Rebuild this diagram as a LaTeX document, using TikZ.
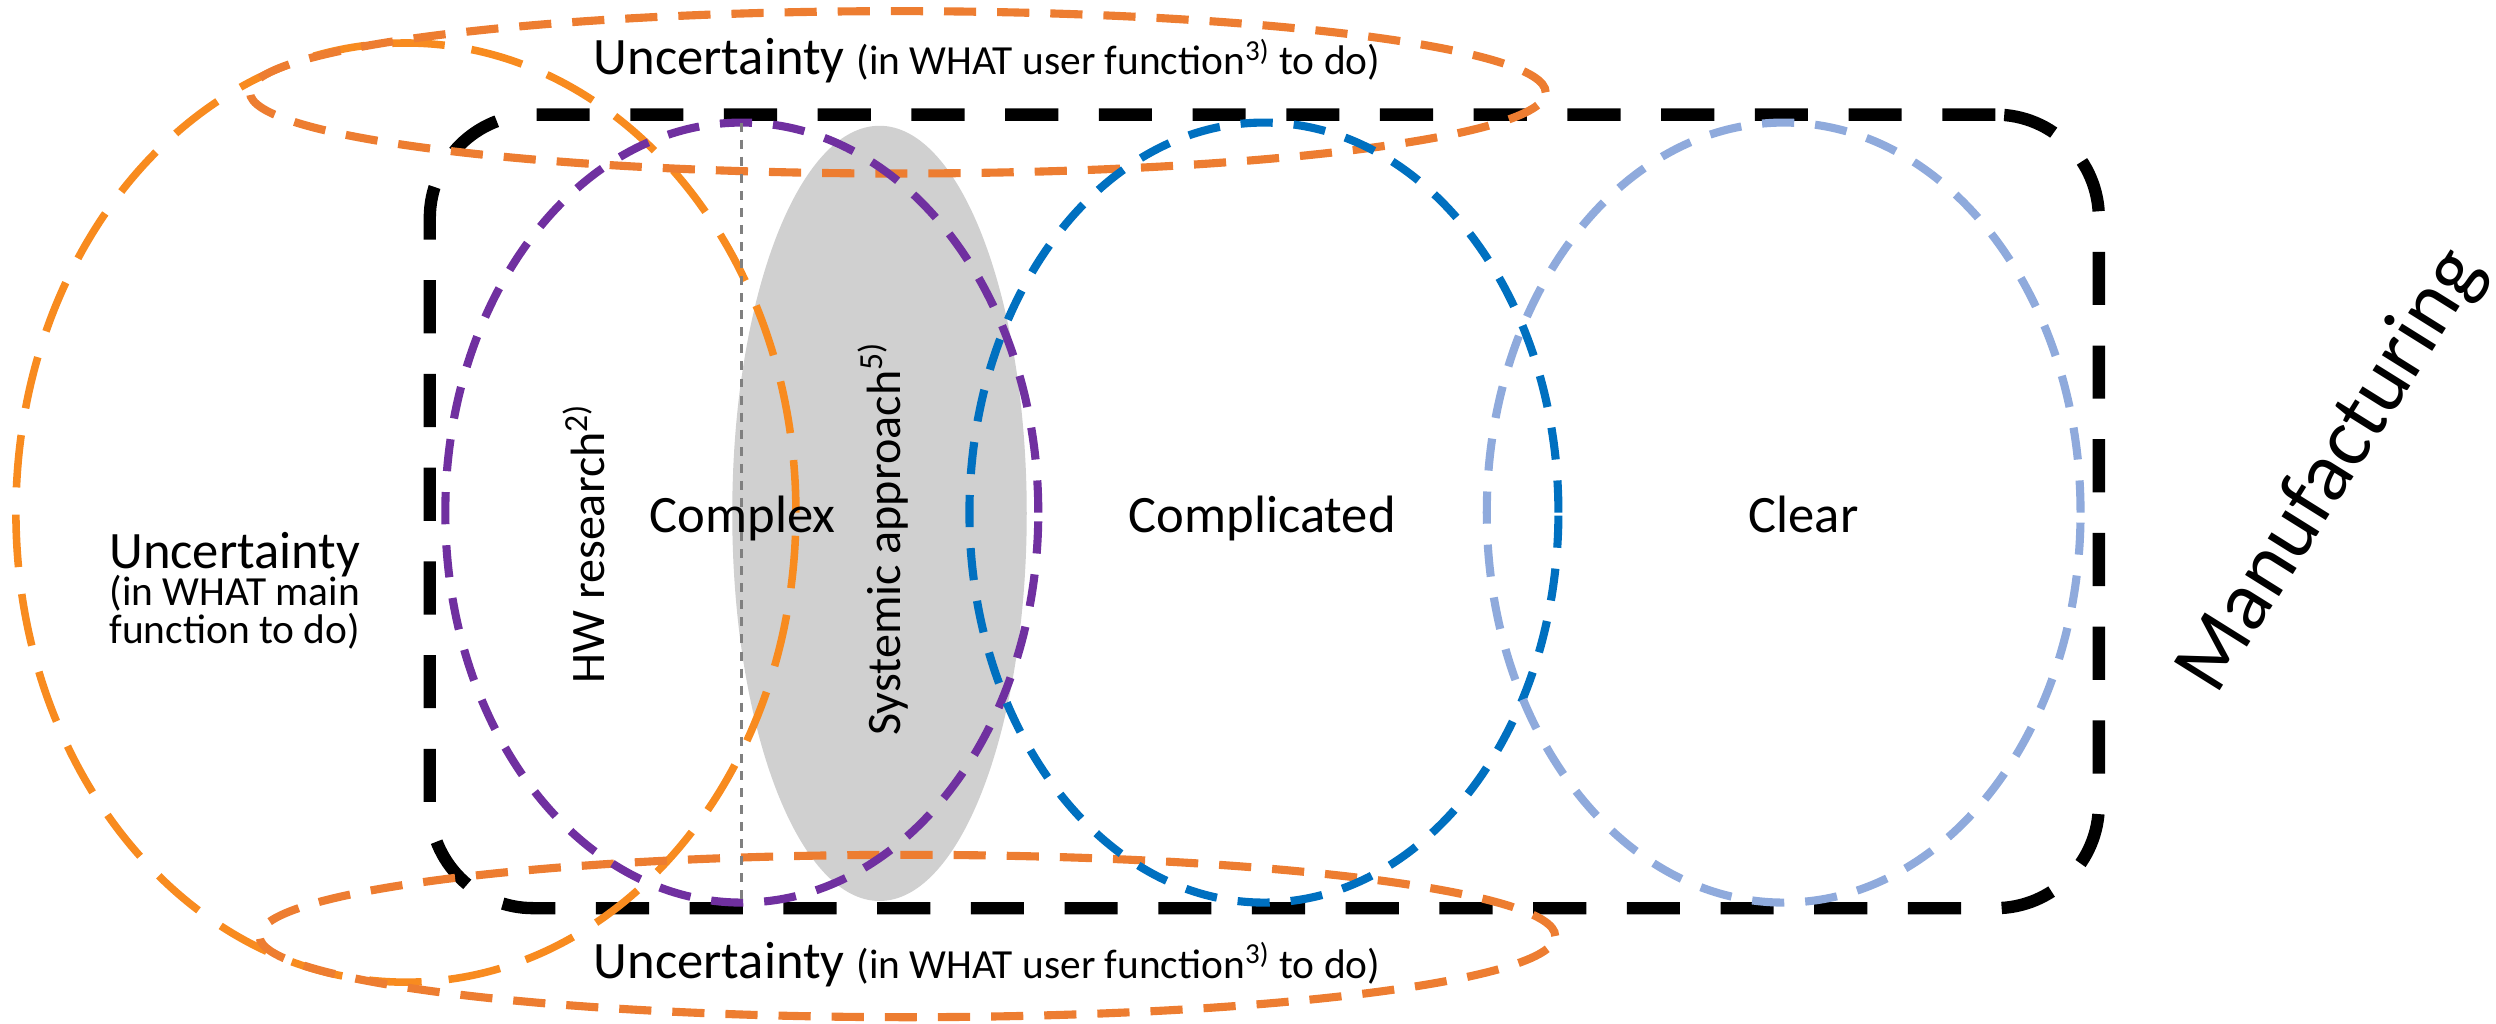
\documentclass[tikz,border=0pt]{standalone}
\usepackage{fontspec}
\setmainfont{Carlito}
\usetikzlibrary{shapes.geometric}

\definecolor{userorange}{RGB}{237,125,49}
\definecolor{mainorange}{RGB}{248,139,31}
\definecolor{cplxpurple}{RGB}{112,48,160}
\definecolor{cpldblue}{RGB}{0,112,192}
\definecolor{clearblue}{RGB}{143,170,220}
\definecolor{sysgray}{RGB}{208,208,208}

\begin{document}
\begin{tikzpicture}[
  zone/.style={ellipse,inner sep=0,outer sep=0,line width=2.9pt,dash pattern=on 11.5pt off 7.5pt},
  bigtext/.style={anchor=base,font=\fontsize{18.8}{20}\selectfont},
  smalltext/.style={anchor=base,font=\fontsize{14.8}{16}\selectfont},
  rottext/.style={anchor=base,rotate=90,font=\fontsize{17.2}{19}\selectfont}]

  \useasboundingbox (0,0) rectangle (31.36,12.86);

  \node (sys) at (11.05,6.41) [ellipse,fill=sysgray,inner sep=0,minimum width=3.7cm,minimum height=9.74cm]{};

  \node (manu) at (15.885,6.435) [draw,rectangle,rounded corners=1.3cm,line width=4.4pt,
    dash pattern=on 19pt off 14.5pt,minimum width=20.97cm,minimum height=9.97cm,inner sep=0]{};

  \node (main) at (5.10,6.42) [zone,draw=mainorange,line width=2.7pt,dash pattern=on 18.8pt off 9.7pt,
    minimum width=9.8cm,minimum height=11.8cm]{};
  \node (usertop) at (11.28,11.70) [zone,draw=userorange,minimum width=16.28cm,minimum height=2.04cm]{};
  \node (userbot) at (11.40,1.10) [zone,draw=userorange,minimum width=16.28cm,minimum height=2.04cm]{};
  \node (cplx) at (9.32,6.42) [zone,draw=cplxpurple,minimum width=7.45cm,minimum height=9.8cm]{};
  \node (cpld) at (15.88,6.42) [zone,draw=cpldblue,minimum width=7.40cm,minimum height=9.8cm]{};
  \node (clear) at (22.41,6.42) [zone,draw=clearblue,minimum width=7.46cm,minimum height=9.8cm]{};

  \draw[gray,line width=1pt,dash pattern=on 3.2pt off 2.9pt] (cplx.north) -- (cplx.south);

  \node (usertopl) at (12.40,11.92) [bigtext]
    {Uncertainty {\fontsize{14.8}{16}\selectfont (in WHAT user function\textsuperscript{3)} to do)}};
  \node (userbotl) at (12.40,0.57) [bigtext]
    {Uncertainty {\fontsize{14.8}{16}\selectfont (in WHAT user function\textsuperscript{3)} to do)}};

  \node (mainl) at (2.95,5.72) [bigtext]{Uncertainty};
  \node (mainl2) at (2.95,5.25) [smalltext]{(in WHAT main};
  \node (mainl3) at (2.95,4.78) [smalltext]{function to do)};

  \node (hwl) at (7.60,6.03) [rottext]{HW research\textsuperscript{2)}};
  \node (sysl) at (11.31,6.09) [rottext]{Systemic approach\textsuperscript{5)}};

  \node (cplxl) at (9.33,6.17) [bigtext]{Complex};
  \node (cpldl) at (15.86,6.17) [bigtext]{Complicated};
  \node (clearl) at (22.66,6.17) [bigtext]{Clear};

  \node (manul) at (29.30,6.94) [rotate=58,font=\fontsize{30}{32}\selectfont]{Manufacturing};

\end{tikzpicture}
\end{document}
